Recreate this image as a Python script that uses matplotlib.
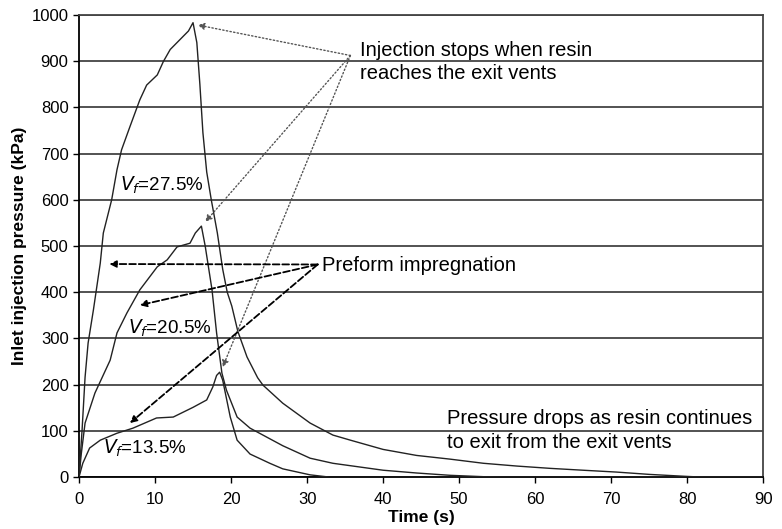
import numpy as np
import matplotlib.pyplot as plt

plt.rcParams['font.family'] = ['Liberation Sans', 'DejaVu Sans']

# inlet pressure traces, three fibre volume fractions
t_275 = [0, 0.4, 0.8, 1.2, 1.9, 2.8, 3.2, 4.3, 5.0, 5.6, 6.7, 8.0, 8.9, 10.3, 11.1,
         12.0, 13.5, 14.4, 15.0, 15.5, 15.9, 16.3, 16.8, 17.4, 18.2, 18.9, 19.5,
         20.1, 20.9, 22.1, 23.5, 24.2, 26.8, 30.4, 33.4, 35.7, 40.0, 44.4, 48.8,
         53.2, 57.6, 62.0, 66.3, 70.7, 75.0, 79.5, 82.0, 90.0]
p_275 = [0, 100, 216, 290, 362, 463, 528, 600, 665, 708, 758, 816, 848, 870, 899,
         925, 950, 965, 983, 940, 850, 745, 660, 600, 528, 450, 400,
         370, 315, 260, 215, 199, 160, 117, 91, 80, 60, 47, 39,
         30, 24, 19, 15, 11, 6, 2, 0, 0]

t_205 = [0, 0.3, 0.8, 2.1, 4.1, 5.0, 6.3, 8.0, 10.3, 11.6, 12.9, 14.6, 15.3, 16.1,
         16.6, 17.5, 18.1, 18.8, 19.4, 20.8, 22.5, 26.8, 30.4, 33.4, 40.0, 44.4,
         48.8, 53.2, 56.0, 90.0]
p_205 = [0, 50, 117, 182, 253, 312, 355, 405, 455, 470, 498, 506, 528, 543,
         500, 405, 312, 225, 188, 130, 106, 68, 41, 30, 15, 9,
         4, 1, 0, 0]

t_135 = [0, 0.5, 1.4, 2.8, 5.0, 7.1, 10.2, 12.4, 15.0, 16.8, 17.6, 18.1, 18.5,
         18.9, 19.9, 20.8, 22.5, 25.1, 26.8, 30.4, 33.0, 90.0]
p_135 = [0, 30, 63, 80, 95, 106, 128, 130, 151, 167, 195, 220, 227,
         210, 130, 80, 50, 30, 18, 5, 0, 0]

x_ticks = np.arange(0, 91, 10)
y_ticks = np.arange(0, 1001, 100)

fig = plt.figure(figsize=(7.82, 5.29), dpi=100)
ax = fig.add_axes([0.101, 0.098, 0.875, 0.874])

for t, p in [(t_275, p_275), (t_205, p_205), (t_135, p_135)]:
    ax.plot(t, p, color='#222222', lw=1.0, zorder=3)

ax.set_xlim(0, 90)
ax.set_ylim(0, 1000)
ax.set_xticks(x_ticks)
ax.set_yticks(y_ticks)
ax.tick_params(labelsize=12, direction='out', length=4, width=1, colors='black')
ax.tick_params(axis='x', pad=7)
ax.yaxis.grid(True, color='#444444', lw=1.3)
ax.set_axisbelow(True)
for side in ['top', 'right']:
    ax.spines[side].set_color('#444444')
    ax.spines[side].set_linewidth(1.3)
for side in ['left', 'bottom']:
    ax.spines[side].set_color('black')
    ax.spines[side].set_linewidth(1.3)

ax.set_xlabel('Time (s)', fontsize=12.5, fontweight='bold', labelpad=2)
ax.set_ylabel('Inlet injection pressure (kPa)', fontsize=12.5, fontweight='bold', labelpad=3)

# curve labels
ax.text(5.4, 632, r'$V_f$=27.5%', fontsize=13.5, va='center')
ax.text(6.4, 322, r'$V_f$=20.5%', fontsize=13.5, va='center')
ax.text(3.2, 63, r'$V_f$=13.5%', fontsize=13.5, va='center')

# end of injection
ax.text(37, 898, 'Injection stops when resin\nreaches the exit vents', fontsize=14.5,
        va='center', linespacing=1.3)
dotted = dict(arrowstyle='-|>', ls=':', lw=1.0, color='#555555',
              mutation_scale=10, shrinkA=0, shrinkB=0)
for tip in [(15.6, 978), (16.6, 552), (18.9, 238)]:
    ax.annotate('', xy=tip, xytext=(35.7, 912), arrowprops=dotted)

# preform impregnation
ax.text(32, 458, 'Preform impregnation', fontsize=14.5, va='center')
dashed = dict(arrowstyle='-|>', ls='--', lw=1.3, color='black',
              mutation_scale=10, shrinkA=0, shrinkB=0)
for tip in [(4.0, 461), (8.0, 372), (6.7, 117)]:
    ax.annotate('', xy=tip, xytext=(31.4, 460), arrowprops=dashed)

ax.text(48.4, 101, 'Pressure drops as resin continues\nto exit from the exit vents',
        fontsize=14.5, va='center', linespacing=1.3)

fig.savefig('out.png', dpi=100)
